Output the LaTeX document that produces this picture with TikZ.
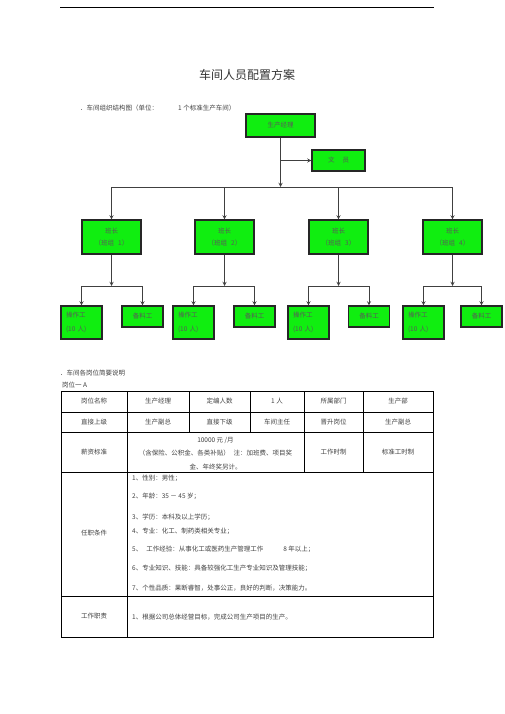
\documentclass[tikz,border=0pt]{standalone}
\usepackage{fontspec}
\setmainfont{Noto Sans CJK SC}
\usepackage{tikz}
\usetikzlibrary{arrows,positioning,calc}
\definecolor{boxgreen}{RGB}{16,238,16}

\begin{document}
\begin{tikzpicture}[
    x=1pt, y=-1pt,
    orgbox/.style={rectangle, draw=black!85, fill=boxgreen, line width=1.1pt, inner sep=0pt, align=center, text=black!65, font=\fontsize{6.5}{12}\selectfont},
    mgrbox/.style={orgbox, minimum width=69pt, minimum height=23pt},
    clerkbox/.style={orgbox, minimum width=53pt, minimum height=21pt},
    leadbox/.style={orgbox, minimum width=59pt, minimum height=34pt},
    workbox/.style={orgbox, inner xsep=5pt, text width=31pt, align=left, minimum height=33pt, font=\fontsize{6.5}{14}\selectfont},
    matbox/.style={orgbox, minimum width=41pt, minimum height=21pt},
    arrow/.style={->, >=stealth, line width=0.9pt, draw=black!75},
    link/.style={line width=0.9pt, draw=black!75},
    cell/.style={font=\fontsize{6.5}{8}\selectfont, text=black!75, inner sep=0pt},
    grid/.style={line width=0.8pt, draw=black}
]
\useasboundingbox (0,0) rectangle (505,714);

% Header
\draw[line width=0.9pt] (60,7) -- (434,7);
\node[font=\fontsize{12}{14}\selectfont, text=black!80] (title) at (247,75) {车间人员配置方案};
\node[cell, anchor=west] (sec1) at (80,108) {．车间组织结构图（单位：\hspace{20pt}1 个标准生产车间）};

% Part 1: Org chart
\node[mgrbox] (mgr) at (280.5,125.5) {生产经理};
\node[clerkbox] (clerk) at (338.5,160.5) {文\hspace{8pt}员};
\coordinate (tap) at (280.5,160.5);
\coordinate (hub) at (280.5,187);
\coordinate (bus1) at (111.5,187);
\coordinate (bus2) at (224.5,187);
\coordinate (bus3) at (338.5,187);
\coordinate (bus4) at (452.5,187);
\draw[arrow] (mgr) -- (hub);
\draw[arrow] (tap) -- (clerk);
\draw[link] (bus1) -- (bus4);

\node[leadbox] (lead1) at (111.5,237) {班长\\（班组\hspace{4pt}1）};
\node[leadbox] (lead2) at (224.5,237) {班长\\（班组\hspace{4pt}2）};
\node[leadbox] (lead3) at (338.5,237) {班长\\（班组\hspace{4pt}3）};
\node[leadbox] (lead4) at (452.5,237) {班长\\（班组\hspace{4pt}4）};
\draw[arrow] (bus1) -- (lead1);
\draw[arrow] (bus2) -- (lead2);
\draw[arrow] (bus3) -- (lead3);
\draw[arrow] (bus4) -- (lead4);

% Group 1
\node[workbox] (work1) at (81.5,322.5) {操作工\\(10 人)};
\node[matbox] (mat1) at (142.5,316.5) {备料工};
\coordinate (hub1) at (111.5,286);
\coordinate (s1a) at (81.5,286);
\coordinate (s1b) at (142.5,286);
\draw[arrow] (lead1) -- (hub1);
\draw[link] (s1a) -- (s1b);
\draw[arrow] (s1a) -- (work1);
\draw[arrow] (s1b) -- (mat1);

% Group 2
\node[workbox] (work2) at (193.5,322.5) {操作工\\(10 人)};
\node[matbox] (mat2) at (254.5,316.5) {备料工};
\coordinate (hub2) at (224.5,286);
\coordinate (s2a) at (193.5,286);
\coordinate (s2b) at (254.5,286);
\draw[arrow] (lead2) -- (hub2);
\draw[link] (s2a) -- (s2b);
\draw[arrow] (s2a) -- (work2);
\draw[arrow] (s2b) -- (mat2);

% Group 3
\node[workbox] (work3) at (308.5,322.5) {操作工\\(10 人)};
\node[matbox] (mat3) at (369,316.5) {备料工};
\coordinate (hub3) at (338.5,286);
\coordinate (s3a) at (308.5,286);
\coordinate (s3b) at (369,286);
\draw[arrow] (lead3) -- (hub3);
\draw[link] (s3a) -- (s3b);
\draw[arrow] (s3a) -- (work3);
\draw[arrow] (s3b) -- (mat3);

% Group 4
\node[workbox] (work4) at (423.5,322.5) {操作工\\(10 人)};
\node[matbox] (mat4) at (481.5,316.5) {备料工};
\coordinate (hub4) at (452.5,286);
\coordinate (s4a) at (423.5,286);
\coordinate (s4b) at (481.5,286);
\draw[arrow] (lead4) -- (hub4);
\draw[link] (s4a) -- (s4b);
\draw[arrow] (s4a) -- (work4);
\draw[arrow] (s4b) -- (mat4);

% Part 2: Job description table
\node[cell, anchor=west] (sec2) at (60,373) {．车间各岗位简要说明};
\node[cell, anchor=west] (post) at (62,385) {岗位一 A};

\draw[grid] (61,391) rectangle (433,637);
\draw[grid] (61,412) -- (433,412);
\draw[grid] (61,432) -- (433,432);
\draw[grid] (61,472) -- (433,472);
\draw[grid] (61,596) -- (433,596);
\draw[grid] (127,391) -- (127,637);
\draw[grid] (189,391) -- (189,432);
\draw[grid] (250,391) -- (250,432);
\draw[grid] (304,391) -- (304,472);
\draw[grid] (363,391) -- (363,472);

% row 1
\node[cell] (r1c1) at (94,401.5) {岗位名称};
\node[cell] (r1c2) at (158,401.5) {生产经理};
\node[cell] (r1c3) at (219.5,401.5) {定编人数};
\node[cell] (r1c4) at (277,401.5) {1 人};
\node[cell] (r1c5) at (333.5,401.5) {所属部门};
\node[cell] (r1c6) at (398,401.5) {生产部};
% row 2
\node[cell] (r2c1) at (94,422) {直接上级};
\node[cell] (r2c2) at (158,422) {生产副总};
\node[cell] (r2c3) at (219.5,422) {直接下级};
\node[cell] (r2c4) at (277,422) {车间主任};
\node[cell] (r2c5) at (333.5,422) {晋升岗位};
\node[cell] (r2c6) at (398,422) {生产副总};
% row 3
\node[cell] (r3c1) at (94,452) {薪资标准};
\node[cell, align=center, font=\fontsize{6.5}{13.5}\selectfont] (pay) at (215.5,453.5) {10000 元 /月\\（含保险、公积金、各类补贴）\hspace{4pt}注：加班费、项目奖\\金、年终奖另计。};
\node[cell] (r3c5) at (333.5,452) {工作时制};
\node[cell] (r3c6) at (398,452) {标准工时制};
% row 4
\node[cell] (r4c1) at (94,533) {任职条件};
\node[cell, anchor=west] (req1) at (132,478) {1、性别：男性；};
\node[cell, anchor=west] (req2) at (132,496) {2、年龄：35 － 45 岁；};
\node[cell, anchor=west] (req3) at (132,517) {3、学历：本科及以上学历；};
\node[cell, anchor=west] (req4) at (132,531) {4、专业：化工、制药类相关专业；};
\node[cell, anchor=west] (req5) at (132,549) {5、\hspace{4pt}工作经验：从事化工或医药生产管理工作\hspace{20pt}8 年以上；};
\node[cell, anchor=west] (req6) at (132,568) {6、专业知识、技能：具备较强化工生产专业知识及管理技能；};
\node[cell, anchor=west] (req7) at (132,588) {7、个性品质：果断睿智，处事公正，良好的判断，决策能力。};
% row 5
\node[cell] (r5c1) at (94,616.5) {工作职责};
\node[cell, anchor=west] (duty1) at (132,617) {1、根据公司总体经营目标，完成公司生产项目的生产。};

\end{tikzpicture}
\end{document}
